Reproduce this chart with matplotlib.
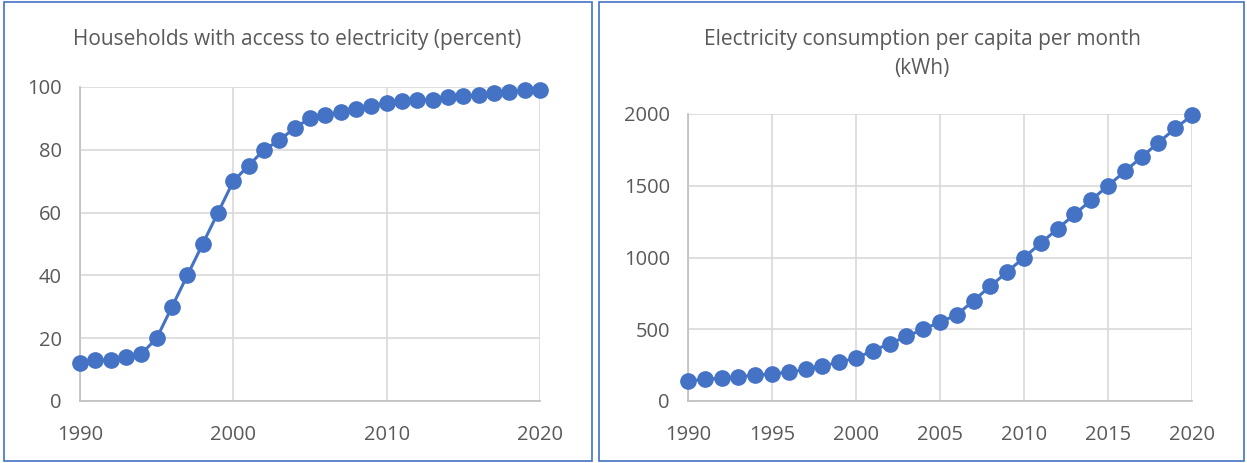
import matplotlib
matplotlib.use('Agg')
import matplotlib.pyplot as plt
from matplotlib.patches import Rectangle

years = list(range(1990, 2021))
access_pct = [12, 13, 13, 14, 15, 20, 30, 40, 50, 60, 70, 75, 80, 83, 87, 90,
              91, 92, 93, 94, 95, 95.5, 96, 96, 96.8, 97, 97.5, 98, 98.5, 99, 99]
consumption_kwh = [140, 150, 160, 170, 180, 190, 200, 220, 245, 270, 300, 350,
                   400, 450, 500, 550, 600, 700, 800, 900, 1000, 1100, 1200,
                   1300, 1400, 1500, 1600, 1700, 1800, 1900, 1990]

left_title = 'Households with access to electricity (percent)'
right_title = 'Electricity consumption per capita per month\n(kWh)'

blue = '#4472C4'
grey_text = '#595959'
grid_col = '#D9D9D9'

plt.rcParams['font.family'] = ['Open Sans', 'DejaVu Sans']

W, H = 1247, 463
fig = plt.figure(figsize=(W / 100, H / 100), dpi=100)

# panel frames
for x0, x1 in [(4, 592), (599, 1244)]:
    fig.add_artist(Rectangle((x0 / W, 2 / H), (x1 - x0) / W, 459 / H,
                             transform=fig.transFigure, fill=False,
                             edgecolor=blue, lw=1.2))


def style(ax, xticks, yticks):
    ax.set_xlim(1990, 2020)
    ax.set_xticks(xticks)
    ax.set_yticks(yticks)
    ax.set_ylim(yticks[0], yticks[-1])
    ax.grid(True, color=grid_col, lw=1.2)
    ax.set_axisbelow(True)
    for s in ['top', 'right']:
        ax.spines[s].set_visible(False)
    for s in ['left', 'bottom']:
        ax.spines[s].set_color('#BFBFBF')
        ax.spines[s].set_linewidth(1.2)
    ax.tick_params(length=0, labelsize=14.5, labelcolor=grey_text)
    ax.tick_params(axis='x', pad=17)
    ax.tick_params(axis='y', pad=13)


ax1 = fig.add_axes([80 / W, 1 - 401 / H, 460 / W, 314 / H])
ax1.plot(years, access_pct, color=blue, lw=2.2, marker='o', ms=11,
         clip_on=False, zorder=3)
style(ax1, [1990, 2000, 2010, 2020], [0, 20, 40, 60, 80, 100])
fig.text(297 / W, 1 - 40 / H, left_title, ha='center', va='center',
         fontsize=15, color=grey_text)

ax2 = fig.add_axes([688 / W, 1 - 401 / H, 504 / W, 287 / H])
ax2.plot(years, consumption_kwh, color=blue, lw=2.2, marker='o', ms=11,
         clip_on=False, zorder=3)
style(ax2, list(range(1990, 2021, 5)), [0, 500, 1000, 1500, 2000])
fig.text(922 / W, 1 - 54 / H, right_title, ha='center', va='center',
         fontsize=15, color=grey_text, linespacing=1.45)

fig.savefig('out.png', dpi=100)
